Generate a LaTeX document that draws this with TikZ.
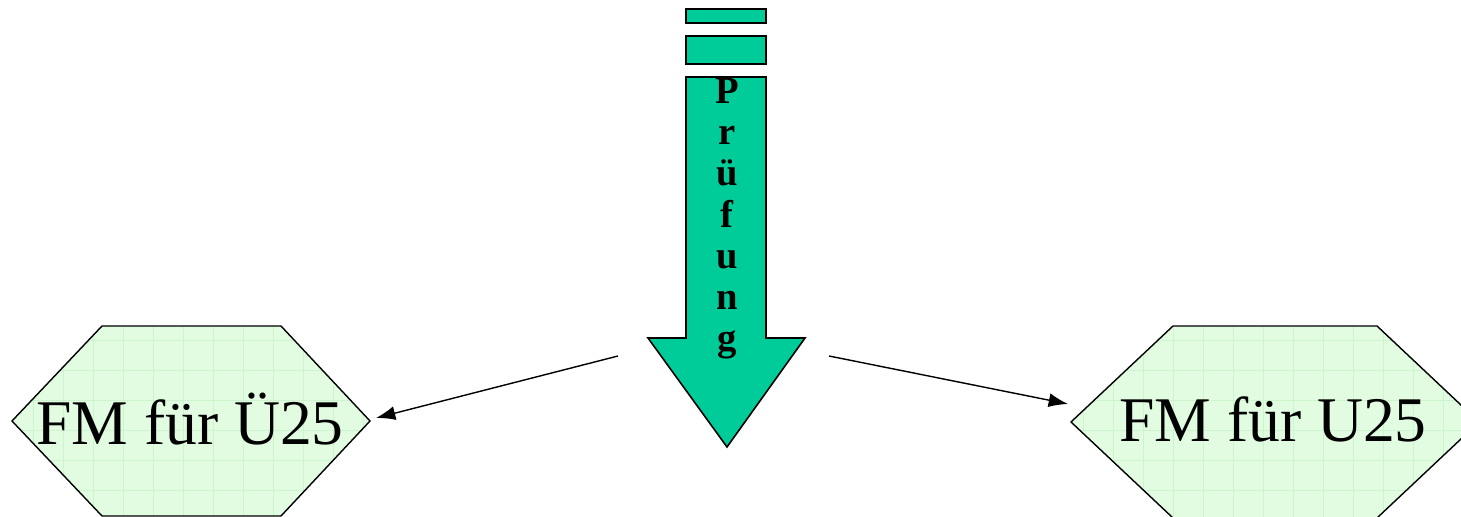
\documentclass[tikz,border=0pt]{standalone}
\usepackage{fontspec}
\setmainfont{Liberation Serif}
\usepackage{xcolor}
\definecolor{arrowgreen}{HTML}{00CC99}
\definecolor{hexfill}{HTML}{E2FCE2}
\definecolor{hexgrid}{HTML}{CDF5CD}
\usetikzlibrary{arrows.meta}

\begin{document}
\begin{tikzpicture}[
  hexa/.style={draw=black, line width=0.8pt, fill=hexfill},
  bar/.style={draw=black, line width=0.9pt, fill=arrowgreen},
  label/.style={font=\fontsize{36.2}{40}\selectfont, inner sep=0pt},
  conn/.style={-{Latex[length=11pt,width=8pt]}, line width=0.8pt}
]
  \useasboundingbox (0,0) rectangle (29.22,10.34);

  % left hexagon
  \begin{scope}
    \clip (0.24,1.92) -- (2.04,3.82) -- (5.62,3.82) -- (7.40,1.92) -- (5.62,0.02) -- (2.04,0.02) -- cycle;
    \fill[hexfill] (0,0) rectangle (8,4);
    \draw[hexgrid, line width=0.3pt, xshift=0.06cm, yshift=-0.06cm] (0,0) grid[step=0.6] (8,4.2);
  \end{scope}
  \draw[hexa, fill=none] (0.24,1.92) -- (2.04,3.82) -- (5.62,3.82) -- (7.40,1.92) -- (5.62,0.02) -- (2.04,0.02) -- cycle;
  \coordinate (hexL-e) at (7.52,1.98);
  \node[label] (hexL) at (3.80,1.95) {FM für Ü25};

  % right hexagon
  \begin{scope}
    \clip (21.42,1.90) -- (23.46,3.82) -- (27.54,3.82) -- (29.58,1.90) -- (27.54,-0.02) -- (23.46,-0.02) -- cycle;
    \fill[hexfill] (21,-0.1) rectangle (29.6,4);
    \draw[hexgrid, line width=0.3pt, xshift=0.06cm, yshift=-0.06cm] (21,-0.1) grid[step=0.6] (29.6,4.2);
  \end{scope}
  \draw[hexa, fill=none] (21.42,1.90) -- (23.46,3.82) -- (27.54,3.82) -- (29.58,1.90) -- (27.54,-0.02) -- (23.46,-0.02) -- cycle;
  \coordinate (hexR-w) at (21.36,2.26);
  \node[label] (hexR) at (25.46,1.95) {FM für U25};

  % big arrow with stripes
  \draw[bar] (13.72,10.16) rectangle (15.32,9.88);
  \draw[bar] (13.72,9.62) rectangle (15.32,9.06);
  \draw[bar] (13.72,8.80) -- (15.32,8.80) -- (15.32,3.58) -- (16.10,3.58)
    -- (14.54,1.40) -- (12.96,3.58) -- (13.72,3.58) -- cycle;
  \node[font=\bfseries\fontsize{22}{23.4}\selectfont, align=center, inner sep=0pt, anchor=north]
    (pruef) at (14.54,8.78) {P\\r\\ü\\f\\u\\n\\g};

  % connectors
  \coordinate (fromL) at (12.36,3.22);
  \coordinate (fromR) at (16.58,3.22);
  \draw[conn] (fromL) -- (hexL-e);
  \draw[conn] (fromR) -- (hexR-w);
\end{tikzpicture}
\end{document}
